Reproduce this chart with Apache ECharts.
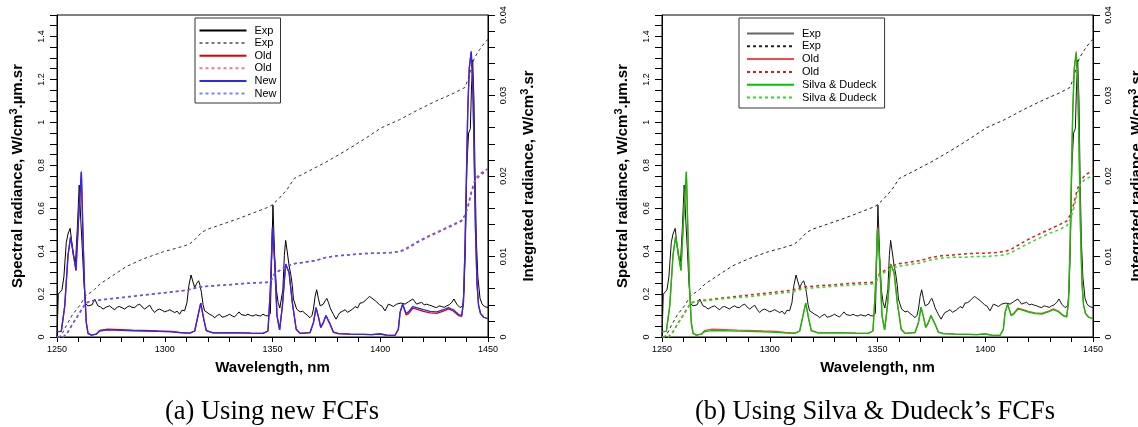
<!DOCTYPE html>
<html><head><meta charset="utf-8">
<script src="https://cdn.jsdelivr.net/npm/echarts@6/dist/echarts.min.js"></script>
<style>html,body{margin:0;padding:0;background:#fff}#c{width:1138px;height:427px}</style>
</head><body><div id="c"></div>
<script>
// ---- Data ----
const expSpectral = [[1250,0],[1250.6,0.2],[1251.5,0.21],[1252.3,0.22],[1253.2,0.28],[1254.3,0.44],[1255.1,0.48],[1256.1,0.506],[1257,0.43],[1257.6,0.38],[1258.6,0.35],[1259.4,0.5],[1260.3,0.708],[1261,0.55],[1261.8,0.4],[1262.5,0.25],[1263.3,0.155],[1264.4,0.145],[1265.2,0.137],[1266.3,0.15],[1267.5,0.177],[1269,0.145],[1270.2,0.14],[1271.4,0.13],[1273,0.14],[1274.4,0.145],[1275.6,0.135],[1276.8,0.127],[1278,0.14],[1279,0.142],[1280.2,0.136],[1281.4,0.13],[1282.6,0.14],[1283.7,0.145],[1284.8,0.138],[1286,0.137],[1287.2,0.148],[1288.4,0.153],[1289.5,0.14],[1290.7,0.13],[1291.9,0.14],[1293,0.148],[1294.2,0.128],[1295.3,0.114],[1296.4,0.125],[1297.6,0.13],[1298.8,0.124],[1300,0.117],[1301.2,0.122],[1302.3,0.127],[1303.5,0.12],[1304.6,0.114],[1305.8,0.12],[1306.9,0.106],[1308,0.125],[1309.2,0.122],[1310.3,0.16],[1311.2,0.24],[1312.2,0.289],[1313,0.26],[1313.9,0.23],[1314.8,0.25],[1315.7,0.262],[1316.4,0.24],[1317,0.208],[1317.8,0.15],[1318.5,0.122],[1319.6,0.115],[1320.8,0.106],[1322,0.1],[1323.2,0.09],[1324.3,0.1],[1325.5,0.106],[1326.6,0.092],[1327.8,0.095],[1329,0.1],[1330.1,0.106],[1331.3,0.098],[1332.4,0.094],[1333.5,0.105],[1334.5,0.117],[1335.4,0.105],[1336.3,0.098],[1337.5,0.1],[1338.6,0.106],[1339.8,0.1],[1341,0.098],[1342.2,0.104],[1343.3,0.1],[1344.5,0.098],[1345.6,0.106],[1346.7,0.1],[1347.9,0.098],[1349,0.11],[1349.6,0.35],[1350.2,0.614],[1351,0.38],[1351.8,0.22],[1352.6,0.16],[1353.4,0.135],[1354.1,0.13],[1354.8,0.22],[1355.5,0.38],[1356.1,0.45],[1356.8,0.4],[1357.7,0.333],[1358.5,0.29],[1359.2,0.24],[1359.7,0.177],[1361.2,0.13],[1362.8,0.117],[1364,0.12],[1365.1,0.11],[1366.3,0.1],[1367.4,0.09],[1368.3,0.1],[1369,0.13],[1369.8,0.19],[1370.5,0.22],[1371.3,0.18],[1372.1,0.145],[1373,0.15],[1373.6,0.153],[1374.5,0.17],[1375.2,0.18],[1376,0.16],[1376.7,0.137],[1377.5,0.12],[1378.2,0.106],[1379.5,0.083],[1380.4,0.1],[1381.3,0.114],[1382.5,0.12],[1383.7,0.127],[1384.8,0.115],[1386,0.122],[1387.2,0.13],[1388.3,0.142],[1389.5,0.135],[1390.6,0.158],[1391.8,0.16],[1393,0.169],[1394,0.18],[1395,0.189],[1396,0.182],[1396.8,0.177],[1397.8,0.168],[1398.7,0.161],[1399.7,0.15],[1400.7,0.145],[1401.5,0.14],[1402.2,0.122],[1403,0.13],[1403.8,0.153],[1405,0.148],[1406.1,0.142],[1407,0.15],[1407.6,0.153],[1408.5,0.155],[1409.5,0.158],[1410.5,0.156],[1411.5,0.153],[1412.3,0.16],[1413.1,0.164],[1414,0.17],[1415.1,0.177],[1416,0.165],[1416.9,0.153],[1418,0.158],[1419.2,0.161],[1420.4,0.15],[1421.6,0.153],[1422.8,0.148],[1423.9,0.145],[1425,0.14],[1426.2,0.137],[1427.3,0.145],[1428.5,0.142],[1429.7,0.138],[1430.8,0.145],[1432,0.15],[1433.2,0.161],[1434.2,0.177],[1435.5,0.153],[1437,0.137],[1438.3,0.145],[1438.9,0.22],[1439.5,0.42],[1440.2,0.8],[1441,0.95],[1441.8,0.97],[1442.3,1.15],[1442.9,1.29],[1443.5,1.1],[1444,0.75],[1444.6,0.45],[1445.3,0.28],[1446.3,0.18],[1447.2,0.155],[1448,0.145],[1449,0.14],[1450,0.137]];

const expIntegrated = [[1250.5,0],[1252,0.0002],[1254.3,0.0014],[1257,0.0027],[1260.5,0.0039],[1263.3,0.0051],[1267.4,0.0059],[1270,0.0066],[1282.5,0.0088],[1290,0.0097],[1299.4,0.0106],[1305,0.011],[1311.2,0.0115],[1314,0.0121],[1317.1,0.013],[1320,0.0134],[1333.1,0.0146],[1340,0.0153],[1348.7,0.0162],[1350.3,0.0165],[1353,0.0172],[1356.7,0.0183],[1360.1,0.0197],[1366.8,0.0206],[1375.3,0.0218],[1383.7,0.0231],[1392.1,0.0245],[1400.6,0.026],[1409,0.027],[1417.4,0.0282],[1425.8,0.0293],[1434.3,0.0303],[1439.3,0.031],[1441,0.0322],[1442.7,0.034],[1444,0.0348],[1446.1,0.0357],[1448,0.0364],[1450,0.037]];

const wlModel = [
 1250,1252,1253.6,1255.1,1256.3,1257.7,1258.8,1260,1261.3,1262.1,
 1262.8,1263.6,1264.4,1266,1268.2,1269.8,1273,1280,1285,1290,
 1297,1303,1307,1311.6,1313.9,1315.4,1316.7,1318.1,1319.3,1322.4,
 1332,1340,1345.6,1347.9,1349,1350,1351,1352.1,1353.3,1354.6,
 1356.1,1357.7,1359.2,1361,1362.8,1367.4,1369,1370.2,1371.4,1372.4,
 1373.6,1374.8,1376.7,1378.2,1380.6,1386,1392,1396,1400,1403,
 1406.9,1408.4,1409.2,1410.4,1412,1413.1,1415.1,1416.9,1420,1423.1,
 1426.2,1429.3,1431.6,1433.9,1436.3,1437.8,1438.6,1439.3,1439.9,1440.6,
 1441.3,1442.2,1442.9,1443.5,1444.2,1444.9,1445.6,1446.5,1448,1450];

const newSpectral = [
 0.025,0.026,0.145,0.38,0.466,0.38,0.31,0.55,0.77,0.458,
 0.223,0.067,0.017,0.009,0.013,0.028,0.033,0.031,0.029,0.028,
 0.026,0.024,0.02,0.018,0.028,0.098,0.158,0.083,0.03,0.019,
 0.02,0.018,0.017,0.028,0.22,0.51,0.35,0.098,0.033,0.145,
 0.34,0.30,0.16,0.036,0.017,0.02,0.067,0.137,0.09,0.044,
 0.067,0.10,0.06,0.023,0.016,0.013,0.012,0.011,0.014,0.009,
 0.008,0.036,0.114,0.153,0.11,0.117,0.142,0.137,0.127,0.119,
 0.117,0.127,0.137,0.127,0.106,0.10,0.16,0.40,0.70,1.05,
 1.25,1.33,1.2,0.9,0.5,0.25,0.15,0.11,0.092,0.085];

const oldSpectral = [
 0.025,0.026,0.145,0.38,0.466,0.38,0.31,0.55,0.77,0.458,
 0.223,0.067,0.017,0.009,0.013,0.031,0.036,0.034,0.032,0.031,
 0.028,0.026,0.021,0.018,0.028,0.098,0.158,0.083,0.03,0.019,
 0.02,0.018,0.017,0.028,0.22,0.51,0.35,0.098,0.033,0.145,
 0.34,0.30,0.16,0.036,0.017,0.02,0.067,0.137,0.09,0.044,
 0.067,0.10,0.06,0.023,0.016,0.013,0.012,0.011,0.014,0.009,
 0.008,0.036,0.114,0.153,0.103,0.109,0.134,0.13,0.119,0.112,
 0.11,0.12,0.131,0.121,0.1,0.096,0.16,0.40,0.70,1.05,
 1.25,1.33,1.2,0.9,0.5,0.25,0.15,0.11,0.092,0.085];

const sdSpectral = [
 0.025,0.026,0.145,0.38,0.466,0.38,0.31,0.55,0.77,0.458,
 0.223,0.067,0.017,0.009,0.013,0.025,0.03,0.029,0.027,0.026,
 0.024,0.022,0.019,0.017,0.028,0.098,0.158,0.083,0.03,0.019,
 0.02,0.018,0.017,0.028,0.22,0.50,0.35,0.098,0.033,0.145,
 0.34,0.30,0.16,0.036,0.017,0.02,0.067,0.14,0.09,0.044,
 0.067,0.10,0.06,0.023,0.016,0.013,0.012,0.011,0.014,0.009,
 0.008,0.036,0.114,0.153,0.1,0.105,0.13,0.126,0.116,0.109,
 0.107,0.117,0.127,0.118,0.098,0.093,0.16,0.40,0.70,1.05,
 1.25,1.32,1.2,0.9,0.5,0.25,0.15,0.11,0.092,0.085];

const wlModelInt = [
 1250,1253,1255,1257.4,1260.5,1263.3,1266,1270,1280,1290,
 1300,1310,1316,1320,1330,1340,1348,1349.5,1351,1353,
 1356.5,1360,1365,1370,1375,1380,1385,1390,1395,1400,
 1405,1409,1412,1417,1422,1426,1430,1434,1437.8,1439.5,
 1441,1442.5,1444,1446,1448,1450];

const oldIntegrated = [
 0,0,0.0006,0.0017,0.003,0.0042,0.0045,0.0046,0.0049,0.0052,
 0.0055,0.0058,0.0062,0.0063,0.0065,0.0067,0.0068,0.0071,0.0079,0.0082,
 0.0088,0.0091,0.0093,0.0095,0.0099,0.0101,0.0102,0.0103,0.0104,0.0104,
 0.0105,0.0106,0.0109,0.0117,0.0124,0.0129,0.0134,0.0139,0.0144,0.0152,
 0.0165,0.0181,0.0193,0.0200,0.0204,0.0206];

const newIntegrated = [
 0,0,0.0006,0.0017,0.003,0.0042,0.0045,0.0046,0.0049,0.0052,
 0.0055,0.0058,0.0062,0.0063,0.0065,0.0067,0.0068,0.0071,0.0079,0.0082,
 0.0088,0.0091,0.0093,0.0095,0.0099,0.0101,0.0102,0.0103,0.0104,0.0104,
 0.0105,0.0106,0.011,0.0118,0.0125,0.013,0.0135,0.014,0.0145,0.0152,
 0.0166,0.0183,0.0196,0.0202,0.0206,0.0209];

const sdIntegrated = [
 0,0,0.0006,0.0017,0.003,0.0042,0.0044,0.0045,0.0048,0.005,
 0.0053,0.0056,0.006,0.0061,0.0063,0.0065,0.0066,0.0069,0.0077,0.008,
 0.0085,0.0088,0.009,0.0092,0.0096,0.0098,0.0099,0.0099,0.01,0.01,
 0.0101,0.0102,0.0105,0.0112,0.0119,0.0124,0.0129,0.0133,0.0138,0.0146,
 0.0159,0.0176,0.0189,0.0195,0.0198,0.0201];

const legendLabels = {
  'a-exp':'Exp','a-expInt':'Exp','a-old':'Old','a-oldInt':'Old','a-new':'New','a-newInt':'New',
  'b-exp':'Exp','b-expInt':'Exp','b-old':'Old','b-oldInt':'Old','b-sd':'Silva & Dudeck','b-sdInt':'Silva & Dudeck'
};
const captions = ['(a) Using new FCFs', '(b) Using Silva & Dudeck\u2019s FCFs'];

// ---- Chart ----
const FONT = 'Liberation Sans';
const zip = (xs, ys) => xs.map((x, i) => [x, ys[i]]);
const near = (v, step) => Math.abs(v / step - Math.round(v / step)) < 1e-6;

function xAx(gi) {
  return {
    type: 'value', gridIndex: gi, min: 1250, max: 1450, interval: 10,
    axisLine: { show: true, onZero: false, lineStyle: { color: '#000', width: 1 } },
    axisTick: { show: true, length: 5, lineStyle: { color: '#000' } },
    splitLine: { show: false },
    axisLabel: { fontSize: 9, color: '#000', margin: 8, fontFamily: FONT,
      formatter: v => near(v, 50) ? String(Math.round(v)) : '' },
    name: 'Wavelength, nm', nameLocation: 'middle', nameGap: 23,
    nameTextStyle: { fontSize: 15, fontWeight: 'bold', color: '#000', fontFamily: FONT }
  };
}
function yLeft(gi) {
  return {
    type: 'value', gridIndex: gi, position: 'left', min: 0, max: 1.5, interval: 0.05,
    axisLine: { show: true, lineStyle: { color: '#000' } },
    axisTick: { show: true, length: 7, lineStyle: { color: '#000' } },
    splitLine: { show: false },
    axisLabel: { fontSize: 9, color: '#000', rotate: 90, margin: 11, fontFamily: FONT,
      formatter: v => (near(v, 0.2) && v < 1.45) ? String(+v.toFixed(1)) : '' },
    name: 'Spectral radiance, W/cm{s|3}.\u00b5m.sr', nameLocation: 'middle', nameRotate: 90, nameGap: 29,
    nameTextStyle: { fontSize: 15, fontWeight: 'bold', color: '#000', fontFamily: FONT, lineHeight: 20,
      rich: { s: { fontSize: 11, fontWeight: 'bold', fontFamily: FONT, color: '#000', verticalAlign: 'top', lineHeight: 12 } } }
  };
}
function yRight(gi, gap) {
  return {
    type: 'value', gridIndex: gi, position: 'right', min: 0, max: 0.04, interval: 0.002,
    axisLine: { show: true, lineStyle: { color: '#000' } },
    axisTick: { show: true, length: 7, lineStyle: { color: '#000' } },
    splitLine: { show: false },
    axisLabel: { fontSize: 9, color: '#000', rotate: 90, margin: 11, fontFamily: FONT,
      formatter: v => near(v, 0.01) ? String(+v.toFixed(2)) : '' },
    name: 'Integrated radiance, W/cm{s|3}.sr', nameLocation: 'middle', nameRotate: 90, nameGap: gap,
    nameTextStyle: { fontSize: 15, fontWeight: 'bold', color: '#000', fontFamily: FONT, lineHeight: 20,
      rich: { s: { fontSize: 11, fontWeight: 'bold', fontFamily: FONT, color: '#000', verticalAlign: 'top', lineHeight: 12 } } }
  };
}
function line(name, data, xi, yi, color, width, dashed) {
  return {
    name, type: 'line', data, xAxisIndex: xi, yAxisIndex: yi,
    symbol: 'none', showSymbol: false, silent: true, animation: false,
    lineStyle: { color, width, type: dashed ? [3, 3] : 'solid' },
    itemStyle: { color },
    emphasis: { disabled: true }
  };
}

const series = [
  line('a-exp', expSpectral, 0, 0, '#000', 1, false),
  line('a-expInt', expIntegrated, 0, 1, '#333', 1, true),
  line('a-old', zip(wlModel, oldSpectral), 0, 0, '#e00000', 1.3, false),
  line('a-oldInt', zip(wlModelInt, oldIntegrated), 0, 1, '#e84848', 1.5, true),
  line('a-new', zip(wlModel, newSpectral), 0, 0, '#2a2af0', 1.3, false),
  line('a-newInt', zip(wlModelInt, newIntegrated), 0, 1, '#5858ff', 1.5, true),
  line('b-exp', expSpectral, 1, 2, '#111', 1, false),
  line('b-expInt', expIntegrated, 1, 3, '#222', 1, true),
  line('b-old', zip(wlModel, oldSpectral), 1, 2, '#f04a4a', 1.3, false),
  line('b-oldInt', zip(wlModelInt, oldIntegrated), 1, 3, '#e81818', 1.5, true),
  line('b-sd', zip(wlModel, sdSpectral), 1, 2, '#00c400', 1.3, false),
  line('b-sdInt', zip(wlModelInt, sdIntegrated), 1, 3, '#2ed82e', 1.5, true)
];

const legendBase = {
  orient: 'vertical', itemWidth: 47, itemHeight: 10,
  borderColor: '#333', borderWidth: 1, backgroundColor: '#fff',
  formatter: n => legendLabels[n],
  itemStyle: { opacity: 0, borderWidth: 0 },
  textStyle: { fontSize: 11, fontFamily: FONT, color: '#000', lineHeight: 10, padding: [0, 0, 0, 3] },
  selectedMode: false
};

const gridBase = { top: 15, width: 431, height: 322, show: true, borderColor: '#000', borderWidth: 1,
  backgroundColor: 'transparent', containLabel: false, outerBoundsMode: 'none' };

const option = {
  backgroundColor: '#fff',
  animation: false,
  grid: [
    Object.assign({ left: 57 }, gridBase),
    Object.assign({ left: 662 }, gridBase)
  ],
  xAxis: [xAx(0), xAx(1)],
  yAxis: [yLeft(0), yRight(0, 31), yLeft(1), yRight(1, 34)],
  legend: [
    Object.assign({}, legendBase, { left: 195, top: 18, itemGap: 1.6, padding: [7, 4, 4, 3.5],
      data: ['a-exp',
             { name: 'a-expInt', lineStyle: { color: '#777' } },
             'a-old',
             { name: 'a-oldInt', lineStyle: { color: '#e88080' } },
             'a-new',
             { name: 'a-newInt', lineStyle: { color: '#8080ff' } }] }),
    Object.assign({}, legendBase, { left: 739, top: 18, itemGap: 1.8, padding: [10, 8, 5, 7],
      data: [{ name: 'b-exp', lineStyle: { color: '#666', width: 2 } },
             'b-expInt', 'b-old', 'b-oldInt', 'b-sd', 'b-sdInt'] })
  ],
  graphic: [
    { type: 'text', x: 272, y: 412, silent: true,
      style: { text: captions[0], fontSize: 26.5, fontFamily: 'Liberation Serif', fill: '#000', align: 'center', verticalAlign: 'middle' } },
    { type: 'text', x: 875, y: 412, silent: true,
      style: { text: captions[1], fontSize: 26.5, fontFamily: 'Liberation Serif', fill: '#000', align: 'center', verticalAlign: 'middle' } }
  ],
  series
};

const chart = echarts.init(document.getElementById('c'), null, { renderer: 'canvas' });
chart.setOption(option);
</script></body></html>
